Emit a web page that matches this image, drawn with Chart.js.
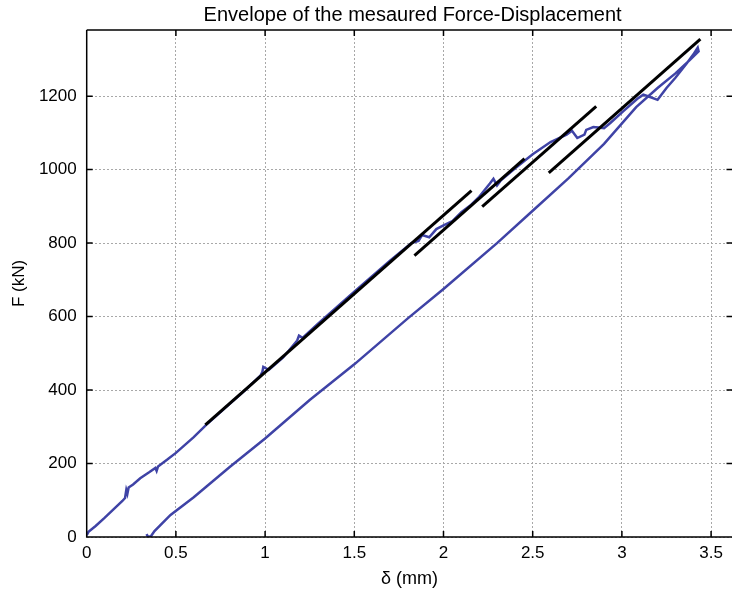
<!DOCTYPE html>
<html>
<head>
<meta charset="utf-8">
<script src="https://cdn.jsdelivr.net/npm/chart.js@4.4.1/dist/chart.umd.min.js"></script>
<style>
  html, body { margin: 0; padding: 0; background: #fff; overflow: hidden; }
  #wrap { width: 740px; height: 597px; }
</style>
</head>
<body>
<div id="wrap"><canvas id="chart" width="740" height="597"></canvas></div>
<script>
// measured envelope (blue): loading branch up to the peak, then the unloading branch back down
const envDisp = [
  0, 0.01, 0.05, 0.1, 0.15, 0.2, 0.215, 0.222, 0.228, 0.235, 0.26, 0.3, 0.35, 0.385, 0.392, 0.4,
  0.45, 0.5, 0.6, 0.67, 0.8, 0.9, 0.975, 0.985, 0.99, 1.01, 1.02, 1.1, 1.18, 1.19, 1.21, 1.3,
  1.5, 1.7, 1.82, 1.86, 1.88, 1.92, 1.96, 2.0, 2.05, 2.1, 2.15, 2.2, 2.26, 2.28, 2.3, 2.32,
  2.4, 2.5, 2.6, 2.69, 2.72, 2.75, 2.79, 2.8, 2.84, 2.9, 2.935, 3.01, 3.085, 3.12, 3.15, 3.2,
  3.25, 3.3, 3.365, 3.4, 3.425,
  3.43, 3.38, 3.3, 3.2, 3.08, 2.9, 2.7, 2.5, 2.3, 2.0, 1.8, 1.5, 1.25, 1.0, 0.8, 0.6,
  0.47, 0.38, 0.36, 0.345, 0.335
];
const envForce = [
  5, 14, 30, 52, 75, 98, 106, 128, 118, 135, 143, 160, 176, 188, 180, 192,
  210, 229, 272, 305, 362, 405, 440, 450, 463, 458, 455, 488, 535, 548, 542, 582,
  668, 752, 800, 806, 822, 816, 838, 848, 860, 884, 902, 926, 962, 975, 957, 970,
  1003, 1042, 1075, 1095, 1106, 1086, 1095, 1108, 1116, 1113, 1127, 1160, 1192, 1204, 1199, 1190,
  1222, 1250, 1290, 1313, 1332,
  1322, 1298, 1262, 1222, 1170, 1070, 976, 888, 800, 675, 595, 470, 373, 268, 190, 108,
  60, 16, 2, 0, 8
];

// stiffness fit lines (black)
const fit1Disp = [0.665, 2.157];
const fit1Force = [305, 943];
const fit2Disp = [1.837, 2.454];
const fit2Force = [766, 1030];
const fit3Disp = [2.217, 2.856];
const fit3Force = [899, 1172];
const fit4Disp = [2.59, 3.44];
const fit4Force = [991, 1355];

const xTicks = [0, 0.5, 1, 1.5, 2, 2.5, 3, 3.5];
const yTicks = [0, 200, 400, 600, 800, 1000, 1200];

const titleText = 'Envelope of the mesaured Force-Displacement';
const fontFamily = '"Liberation Sans", Arial, Helvetica, sans-serif';

const toPoints = (xs, ys) => xs.map((v, i) => ({ x: v, y: ys[i] }));

const fitStyle = { borderColor: '#000000', borderWidth: 3, pointRadius: 0, showLine: true, tension: 0 };

// MATLAB-like box: solid frame, inward tick marks, title over the plot area
const framePlugin = {
  id: 'frame',
  afterDraw(chart) {
    const { ctx, chartArea: a, scales: { x, y } } = chart;
    ctx.save();
    ctx.strokeStyle = '#000';
    ctx.lineWidth = 1.5;
    ctx.beginPath();
    ctx.moveTo(a.left, a.top);
    ctx.lineTo(a.right + 4, a.top);
    ctx.moveTo(a.left, a.top);
    ctx.lineTo(a.left, a.bottom);
    ctx.lineTo(a.right + 4, a.bottom);
    xTicks.forEach(v => {
      const px = x.getPixelForValue(v);
      ctx.moveTo(px, a.bottom);
      ctx.lineTo(px, a.bottom - 6);
      ctx.moveTo(px, a.top);
      ctx.lineTo(px, a.top + 6);
    });
    yTicks.forEach(v => {
      const py = y.getPixelForValue(v);
      ctx.moveTo(a.left, py);
      ctx.lineTo(a.left + 6, py);
      ctx.moveTo(a.right, py);
      ctx.lineTo(a.right - 6, py);
    });
    ctx.stroke();
    ctx.fillStyle = '#000';
    ctx.font = '20px ' + fontFamily;
    ctx.textAlign = 'center';
    ctx.textBaseline = 'middle';
    ctx.fillText(titleText, (a.left + a.right) / 2 + 3, 15);
    ctx.restore();
  }
};

new Chart(document.getElementById('chart'), {
  type: 'scatter',
  data: {
    datasets: [
      { data: toPoints(fit1Disp, fit1Force), ...fitStyle },
      { data: toPoints(fit2Disp, fit2Force), ...fitStyle },
      { data: toPoints(fit3Disp, fit3Force), ...fitStyle },
      { data: toPoints(fit4Disp, fit4Force), ...fitStyle },
      {
        data: toPoints(envDisp, envForce),
        borderColor: '#3f43a6',
        borderWidth: 2.5,
        pointRadius: 0,
        showLine: true,
        tension: 0
      }
    ]
  },
  options: {
    responsive: false,
    devicePixelRatio: 1,
    animation: false,
    layout: { padding: { left: 0, right: 7.5, top: 30, bottom: 0 } },
    plugins: { legend: { display: false }, tooltip: { enabled: false } },
    font: { family: fontFamily },
    scales: {
      x: {
        type: 'linear',
        min: 0,
        max: 3.62,
        afterBuildTicks: s => { s.ticks = xTicks.map(v => ({ value: v })); },
        afterFit: s => { s.height = 60; },
        grid: { color: '#a8a8a8', lineWidth: 1, drawTicks: false },
        border: { display: false, dash: [2, 2] },
        ticks: { color: '#000', padding: 6, maxRotation: 0, callback: v => String(v), font: { size: 17, family: fontFamily } },
        title: { display: true, text: 'δ (mm)', color: '#000', padding: { top: 0, bottom: 7.5 }, font: { size: 18, family: fontFamily } }
      },
      y: {
        type: 'linear',
        min: 0,
        max: 1380,
        afterBuildTicks: s => { s.ticks = yTicks.map(v => ({ value: v })); },
        afterFit: s => { s.width = 86.7; },
        grid: { color: '#a8a8a8', lineWidth: 1, drawTicks: false },
        border: { display: false, dash: [2, 2] },
        ticks: { color: '#000', padding: 10, callback: v => String(v), font: { size: 17, family: fontFamily } },
        title: { display: true, text: 'F (kN)', color: '#000', padding: { top: 9, bottom: 0 }, font: { size: 17, family: fontFamily } }
      }
    }
  },
  plugins: [framePlugin]
});
</script>
</body>
</html>
